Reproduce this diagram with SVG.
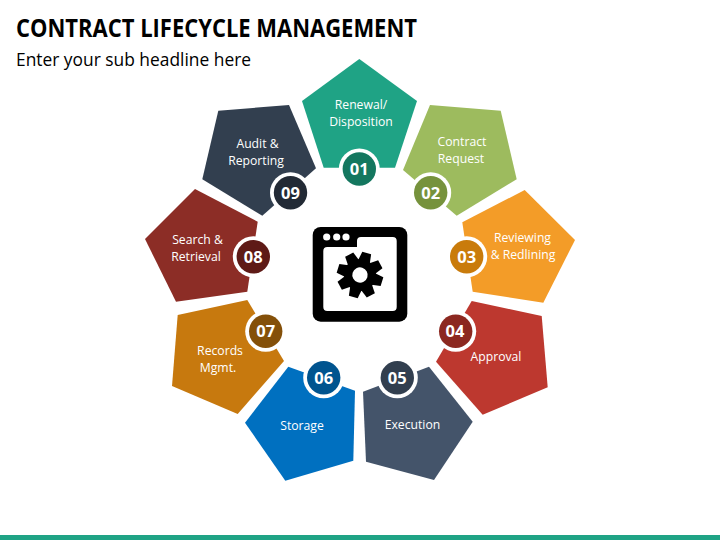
<svg xmlns="http://www.w3.org/2000/svg" width="720" height="540" viewBox="0 0 720 540">
<style>
text{font-family:"Open Sans","Noto Sans","Liberation Sans",sans-serif}
.t{font-size:25px;font-weight:700;fill:#000}
.s{font-size:18px;fill:#000}
.l{font-size:12.2px;fill:#fff;text-anchor:middle}
.n{font-size:16.5px;font-weight:700;fill:#fff;text-anchor:middle}
.r{fill:#fff}
</style>
<rect x="0" y="535" width="720" height="5" fill="#1FA385"/>
<text class="t" x="16" y="37" textLength="401" lengthAdjust="spacingAndGlyphs">CONTRACT LIFECYCLE MANAGEMENT</text>
<text class="s" x="16" y="66" textLength="235" lengthAdjust="spacingAndGlyphs">Enter your sub headline here</text>
<g id="node-01"><polygon points="359.3,59 417,101 395,167.7 323.7,167.7 302,101" fill="#1FA385"/><circle class="r" cx="359.3" cy="169" r="20.5"/><circle cx="359.3" cy="169" r="16.7" fill="#14775F"/><text class="n" x="359.3" y="175">01</text><text class="l" x="361" y="109">Renewal/</text><text class="l" x="361" y="126">Disposition</text></g>
<g id="node-02"><polygon points="430,105 500.7,110.7 516.7,179.3 456.7,215.7 403,170" fill="#9DBB5E"/><circle class="r" cx="430.7" cy="192.7" r="20.5"/><circle cx="430.7" cy="192.7" r="16.7" fill="#76923C"/><text class="n" x="430.7" y="198.7">02</text><text class="l" x="462" y="146">Contract</text><text class="l" x="461" y="163">Request</text></g>
<g id="node-03"><polygon points="524.7,190 575,240 543.3,302.7 472.7,291.7 462.3,222.3" fill="#F39C28"/><circle class="r" cx="466.7" cy="256.7" r="20.5"/><circle cx="466.7" cy="256.7" r="16.7" fill="#C97B0B"/><text class="n" x="466.7" y="262.7">03</text><text class="l" x="522.5" y="242">Reviewing</text><text class="l" x="523" y="259">&amp; Redlining</text></g>
<g id="node-04"><polygon points="471.7,301 541.7,316 547.7,387.3 482.7,414.7 436,361.7" fill="#BD382F"/><circle class="r" cx="455.7" cy="331.3" r="20.5"/><circle cx="455.7" cy="331.3" r="16.7" fill="#8C2820"/><text class="n" x="455" y="337.3">04</text><text class="l" x="496" y="361">Approval</text></g>
<g id="node-05"><polygon points="429,366.7 472.7,421.7 434,480 366,461.7 363,391.7" fill="#44546A"/><circle class="r" cx="397.3" cy="377.7" r="20.5"/><circle cx="397.3" cy="377.7" r="16.7" fill="#323F4F"/><text class="n" x="397.3" y="383.7">05</text><text class="l" x="412.5" y="429">Execution</text></g>
<g id="node-06"><polygon points="288.3,366.7 355,390.7 353.3,460.7 285.3,480.7 245,422.7" fill="#0070C0"/><circle class="r" cx="323.7" cy="377.7" r="20.5"/><circle cx="323.7" cy="377.7" r="16.7" fill="#00548F"/><text class="n" x="323.7" y="383.7">06</text><text class="l" x="302" y="429.5">Storage</text></g>
<g id="node-07"><polygon points="247.3,300 284,361 237.7,414 172,386 177.7,315" fill="#C7790E"/><circle class="r" cx="265.7" cy="331.3" r="20.5"/><circle cx="265.7" cy="331.3" r="16.7" fill="#845009"/><text class="n" x="265.7" y="337.3">07</text><text class="l" x="220" y="355">Records</text><text class="l" x="218" y="372">Mgmt.</text></g>
<g id="node-08"><polygon points="195,189 257.7,221.7 247.3,291.7 176,301.7 145,239" fill="#8C2D26"/><circle class="r" cx="253.3" cy="256.7" r="20.5"/><circle cx="253.3" cy="256.7" r="16.7" fill="#5E1A16"/><text class="n" x="253.3" y="262.7">08</text><text class="l" x="197.5" y="244">Search &amp;</text><text class="l" x="196" y="261">Retrieval</text></g>
<g id="node-09"><polygon points="289,105 316,168.3 262.3,215.7 202.3,179.3 218.3,110.7" fill="#323F4F"/><circle class="r" cx="290.5" cy="192.7" r="20.5"/><circle cx="290.5" cy="192.7" r="16.7" fill="#222A35"/><text class="n" x="290.5" y="198.7">09</text><text class="l" x="257.5" y="148">Audit &amp;</text><text class="l" x="256" y="165">Reporting</text></g>
<g id="icon"><rect x="312.7" y="227" width="94.6" height="94.7" rx="8" fill="#000"/><path d="M323.3 251a4 4 0 0 1 4-4H357V241a4 4 0 0 1 4-4h31.7a4 4 0 0 1 4 4V307a4 4 0 0 1-4 4H327.3a4 4 0 0 1-4-4Z" fill="#fff"/><circle cx="326.7" cy="237" r="3.6" fill="#fff"/><circle cx="336.7" cy="237" r="3.6" fill="#fff"/><circle cx="346" cy="237" r="3.6" fill="#fff"/><g transform="translate(360 275) rotate(17)"><circle r="16" fill="#000"/><g fill="#000"><path d="M-6 -14L-4.6 -23H4.6L6 -14Z"/><path d="M-6 -14L-4.6 -23H4.6L6 -14Z" transform="rotate(45)"/><path d="M-6 -14L-4.6 -23H4.6L6 -14Z" transform="rotate(90)"/><path d="M-6 -14L-4.6 -23H4.6L6 -14Z" transform="rotate(135)"/><path d="M-6 -14L-4.6 -23H4.6L6 -14Z" transform="rotate(180)"/><path d="M-6 -14L-4.6 -23H4.6L6 -14Z" transform="rotate(225)"/><path d="M-6 -14L-4.6 -23H4.6L6 -14Z" transform="rotate(270)"/><path d="M-6 -14L-4.6 -23H4.6L6 -14Z" transform="rotate(315)"/></g><circle r="7.7" fill="#fff"/></g></g>
<g id="connectors"></g>
</svg>
